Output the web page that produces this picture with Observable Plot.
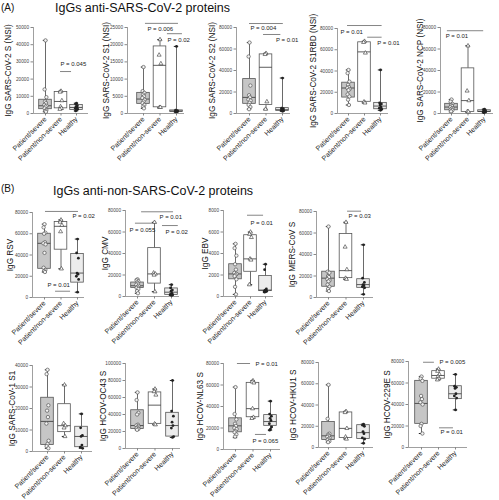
<!DOCTYPE html>
<html><head><meta charset="utf-8">
<script src="https://cdn.jsdelivr.net/npm/d3@7"></script>
<script src="https://cdn.jsdelivr.net/npm/@observablehq/plot@0.6"></script>
<style>
body{margin:0;background:#fff;}
#fig{position:relative;width:499px;height:500px;overflow:hidden;font-family:"Liberation Sans",Arial,sans-serif;background:#fff;}
.lbl{position:absolute;white-space:nowrap;color:#111;line-height:1;}
#fig svg{position:absolute;}
</style></head><body><div id="fig"></div><script>
const groups = ["Patient/severe", "Patient/non-severe", "Healthy"];
const yLabels = ["IgG SARS-CoV-2 S (NSI)", "IgG SARS-CoV-2 S1 (NSI)", "IgG SARS-CoV-2 S2 (NSI)", "IgG SARS-CoV-2 S1RBD (NSI)", "IgG SARS-CoV-2 NCP (NSI)",
  "IgG RSV", "IgG CMV", "IgG EBV", "IgG MERS-CoV S",
  "IgG SARS-CoV-1 S1", "IgG HCOV-OC43 S", "IgG HCOV-NL63 S", "IgG HCOV-HKU1 S", "IgG HCOV-229E S"];
const yMax = [50000, 25000, 80000, 80000, 80000, 80000, 80000, 8000, 80000, 40000, 100000, 80000, 80000, 80000];
const yStep = [10000, 5000, 20000, 20000, 20000, 20000, 20000, 2000, 20000, 10000, 20000, 20000, 20000, 20000];

// box stats: [min, q1, median, q3, max]
const boxSevere = [
  [1000, 2500, 4500, 8000, 42500], [1500, 2800, 4200, 6000, 13500], [4000, 9000, 15000, 32000, 66000],
  [8000, 15000, 24000, 29000, 41000], [1500, 3000, 6000, 9000, 13000],
  [24000, 27000, 51000, 60000, 69000], [3000, 8000, 10000, 13000, 16000], [200, 1600, 2100, 3000, 4900],
  [6000, 10000, 18000, 24000, 66000], [1500, 3000, 14000, 25000, 38000], [22000, 23000, 27000, 45000, 66000],
  [11000, 16000, 22000, 29000, 58000], [5000, 7000, 11000, 24000, 59000], [13000, 22000, 41000, 62000, 66000]];
const boxNonSevere = [
  [2500, 3000, 7000, 12500, 13000], [1800, 1800, 14000, 19500, 21500], [4000, 8000, 43000, 55000, 56000],
  [10000, 11000, 58000, 67000, 68000], [1500, 1500, 12000, 42000, 63000],
  [27000, 45000, 67000, 71000, 73000], [4500, 12000, 21000, 45000, 69000], [1100, 2300, 3500, 5700, 6000],
  [17000, 18000, 25000, 59000, 70000], [7000, 9000, 12000, 22000, 31000], [28000, 29000, 51000, 66000, 70000],
  [29000, 30000, 38000, 62000, 64000], [8000, 9000, 18000, 33000, 34000], [63000, 64000, 67000, 71000, 73000]];
const boxHealthy = [
  [1500, 2000, 3500, 5000, 6000], [400, 500, 700, 900, 19500], [2000, 2500, 3500, 5000, 33000],
  [3000, 4000, 7000, 10000, 41000], [800, 1500, 2000, 3000, 4000],
  [5000, 14000, 23000, 41000, 55000], [1000, 1500, 4000, 7500, 11000], [400, 500, 600, 1900, 3000],
  [3000, 9000, 12000, 17000, 49000], [1500, 2000, 7000, 11500, 17500], [13000, 14000, 27000, 42000, 80000],
  [18000, 22000, 26000, 32000, 45000], [4000, 8000, 14000, 21000, 22000], [35000, 45000, 50000, 57000, 68000]];

// individual points
const ptsSevere = [
  [42500, 14000, 9500, 7000, 6000, 5000, 4500, 4000, 3000, 2000, 1500, 1000],
  [13500, 6500, 6000, 5500, 5000, 4500, 4000, 3500, 3000, 2500, 2000, 1500],
  [66000, 53000, 26000, 17000, 15000, 13000, 12000, 10000, 8000, 6000, 4000],
  [41000, 38000, 30000, 27000, 25000, 24000, 23000, 22000, 18000, 16000, 13000, 8000],
  [13000, 11000, 9000, 8000, 7000, 6000, 5000, 4500, 3500, 3000, 2000],
  [69000, 66000, 61000, 60000, 52000, 51000, 50000, 42000, 28000, 26000, 25000, 24000],
  [16000, 15000, 14000, 13000, 12000, 11000, 10000, 9000, 8000, 7000, 5000, 3000],
  [4900, 4500, 3800, 3000, 2500, 2200, 2100, 2000, 1900, 1600, 900, 200],
  [66000, 24000, 23000, 20000, 19000, 17000, 16000, 15000, 12000, 10000, 8000, 6000],
  [38000, 36000, 21500, 19000, 16000, 13000, 5000, 3500, 2500, 1500],
  [66000, 57000, 42000, 40000, 28000, 27000, 26000, 25000, 24000, 23000, 22000],
  [58000, 33000, 28000, 24000, 22000, 20000, 19000, 17000, 16000, 14000, 12000],
  [59000, 27000, 13000, 12000, 11000, 10000, 9000, 8000, 7000, 6000, 5000],
  [66000, 64000, 62000, 48000, 45000, 42000, 40000, 22000, 20000, 13000]];
const ptsNonSevere = [
  [13000, 12500, 7500, 4000, 3000, 2500], [21500, 17000, 14500, 1800, 1800], [56000, 55000, 11000, 4000],
  [68000, 67000, 57000, 11000, 10000], [63000, 21000, 12000, 2000, 1500],
  [73000, 71000, 68000, 62000, 27000], [69000, 22000, 21000, 20000, 4500], [6000, 5800, 5500, 3500, 3400, 1100],
  [70000, 47000, 26000, 18000, 17000], [31000, 13000, 12000, 11000, 7000], [70000, 67000, 63000, 29000, 28000],
  [64000, 63000, 62000, 38000, 30000, 29000], [34000, 33000, 18000, 10000, 8000], [73000, 71000, 68000, 66000, 64000, 63000]];
const ptsHealthy = [
  [6000, 5500, 4500, 4000, 3500, 3000, 2500, 2000, 1500],
  [19500, 1000, 800, 700, 700, 600, 600, 500, 500],
  [33000, 5000, 4500, 4000, 3500, 3000, 2500, 2000],
  [41000, 10000, 9000, 8000, 6000, 5000, 4000, 3000],
  [4000, 3500, 3000, 2500, 2000, 1800, 1500, 1200, 800],
  [55000, 42000, 37000, 23000, 22000, 20000, 17000, 5000],
  [11000, 8000, 6000, 5000, 3000, 2000, 1500, 1000],
  [3000, 2500, 700, 600, 600, 500, 500, 500, 400],
  [49000, 18000, 14000, 12000, 11000, 10000, 9000, 3000],
  [17500, 11000, 7500, 7000, 3000, 2000, 1500],
  [80000, 44000, 38000, 31000, 27000, 24000, 14000, 13000],
  [45000, 33000, 31000, 29000, 27000, 24000, 21000, 19000, 18000],
  [22000, 21000, 20000, 15000, 13000, 9000, 8000, 4000],
  [68000, 57000, 56000, 55000, 50000, 48000, 46000, 35000]];

// significance annotations: panel, line from x1 to x2 (group units) at y, label at (tx, ty)
const brackets = [
  {p:0, x1:0.97, x2:1.68, y:24400, label:"P = 0.045", tx:0.97, ty:28500},
  {p:1, x1:0.12, x2:2.12, y:26200, label:"P = 0.006", tx:0.24, ty:24500},
  {p:1, x1:1.45, x2:2.36, y:23200, label:"P = 0.02", tx:1.45, ty:21400},
  {p:2, x1:0.0, x2:2.05, y:83700, label:"P = 0.004", tx:0.06, ty:79000},
  {p:2, x1:0.85, x2:1.9, y:73500, label:"P = 0.01", tx:1.6, ty:67900},
  {p:3, x1:-0.06, x2:2.1, y:82800, label:"P = 0.01", tx:-0.5, ty:76500},
  {p:3, x1:1.2, x2:2.1, y:71800, label:"P = 0.01", tx:1.8, ty:66500},
  {p:4, x1:-0.25, x2:1.95, y:77000, label:"P = 0.01", tx:-0.35, ty:72300},
  {p:5, x1:0.06, x2:2.06, y:81000, label:"P = 0.02", tx:1.7, ty:76500},
  {p:5, x1:0.67, x2:1.58, y:5900, label:"P = 0.01", tx:0.18, ty:11950},
  {p:6, x1:0.24, x2:2.12, y:78800, label:"P = 0.01", tx:1.3, ty:74100},
  {p:6, x1:-0.12, x2:0.88, y:68200, label:"P = 0.055", tx:-0.47, ty:61400},
  {p:6, x1:1.47, x2:2.4, y:66000, label:"P = 0.02", tx:1.65, ty:59500},
  {p:7, x1:0.8, x2:1.87, y:7560, label:"P = 0.01", tx:1.0, ty:6860},
  {p:8, x1:1.09, x2:1.89, y:80300, label:"P = 0.03", tx:1.14, ty:75600},
  {p:11, x1:0.11, x2:0.86, y:80000, label:"P = 0.01", tx:1.14, ty:79000},
  {p:11, x1:1.14, x2:1.77, y:14000, label:"P = 0.065", tx:0.97, ty:7400},
  {p:13, x1:0.12, x2:0.76, y:79300, label:"P = 0.005", tx:1.06, ty:79300},
  {p:13, x1:1.06, x2:1.88, y:18300, label:"P = 0.01", tx:1.12, ty:14200}];

// layout (page px): axisX, endX, firstGroupX, lastGroupX, topY, zeroY, labelX
const layout = [
  [33, 88, 45, 76, 27, 113, 8], [127, 184, 143, 176, 27, 113, 106], [236, 290, 249, 282, 27, 113, 212],
  [337, 388, 348, 380, 28, 113, 313], [440, 493, 451, 484, 27, 113, 420],
  [32, 84, 44, 77, 212, 297, 10], [125, 179, 137, 171, 210, 296, 105], [223, 273, 235, 265, 210, 296, 205],
  [316, 373, 328, 363, 211, 297, 292],
  [32, 92, 47, 81, 365, 451, 12], [125, 180, 137, 172, 363, 448, 103], [223, 280, 235, 270, 363, 449, 200],
  [318, 373, 328, 363, 362, 447, 293], [408, 467, 421, 455, 361, 447, 387]];

const fig = document.getElementById("fig");
const FONT = '"Liberation Sans", Arial, sans-serif';
const boxFill = ["#c6c6c6", "#ffffff", "#ececec"];
const spread = [0, -0.22, 0.22, -0.11, 0.11, -0.28, 0.28];

function addLabel(text, x, y, size) {
  const d = document.createElement("div");
  d.className = "lbl"; d.textContent = text;
  d.style.left = x + "px"; d.style.top = y + "px"; d.style.fontSize = size + "px";
  fig.appendChild(d);
}
addLabel("(A)", 1, 2.5, 10);
addLabel("IgGs anti-SARS-CoV-2 proteins", 55, 1.5, 12.5);
addLabel("(B)", 1, 184, 10);
addLabel("IgGs anti-non-SARS-CoV-2 proteins", 53, 184.5, 12.5);

function panel(i) {
  const [ax, ex, g0, g2, ty, zy, lx] = layout[i];
  const s = (g2 - g0) / 2;
  const d0 = (ax - g0) / s, d1 = (ex - g0) / s;
  const ML = 40, MR = 40, MT = 30, MB = 60;
  const width = ML + (ex - ax) + MR;
  const height = MT + (zy - ty) + MB;
  const bw = 6.3 / s;
  const cw = 2.2 / s;
  const boxes = [boxSevere[i], boxNonSevere[i], boxHealthy[i]].map((b, g) =>
    ({g, min: b[0], q1: b[1], med: b[2], q3: b[3], max: b[4]}));
  const pts = [];
  [ptsSevere[i], ptsNonSevere[i], ptsHealthy[i]].forEach((arr, g) =>
    arr.forEach((v, j) => pts.push({g, v, j})));
  const br = brackets.filter(b => b.p === i);
  const ticks = d3.range(0, yMax[i] + 1, yStep[i]);
  const px = d => d.g + spread[d.j % spread.length] * (8 / (s * 2));
  const svg = Plot.plot({
    width, height, marginLeft: ML, marginRight: MR, marginTop: MT, marginBottom: MB,
    x: {domain: [d0, d1], axis: null},
    y: {domain: [0, yMax[i]], axis: null},
    style: {background: "transparent", fontFamily: FONT, fontSize: "7px", overflow: "visible", color: "#333"},
    marks: [
      Plot.axisY({ticks, tickFormat: d => String(d), tickSize: 2.5, tickPadding: 2, fontSize: 4.7, stroke: "#888", fill: "#444", label: null}),
      Plot.axisX({ticks: [0, 1, 2], tickFormat: k => groups[k], tickRotate: -45, tickSize: 2.5, tickPadding: 2, fontSize: 7, stroke: "#888", fill: "#222", label: null}),
      Plot.ruleX([{x: d0, y1: 0, y2: yMax[i]}], {x: "x", y1: "y1", y2: "y2", stroke: "#888", strokeWidth: 0.8}),
      Plot.ruleY([{y: 0, x1: d0, x2: d1}], {y: "y", x1: "x1", x2: "x2", stroke: "#888", strokeWidth: 0.8}),
      Plot.ruleX(boxes, {x: "g", y1: "min", y2: "q1", stroke: "#444", strokeWidth: 0.8}),
      Plot.ruleX(boxes, {x: "g", y1: "q3", y2: "max", stroke: "#444", strokeWidth: 0.8}),
      Plot.ruleY(boxes, {y: "max", x1: d => d.g - cw, x2: d => d.g + cw, stroke: "#222", strokeWidth: 1}),
      Plot.ruleY(boxes, {y: "min", x1: d => d.g - cw, x2: d => d.g + cw, stroke: "#222", strokeWidth: 1}),
      Plot.rect(boxes, {x1: d => d.g - bw, x2: d => d.g + bw, y1: "q1", y2: "q3", fill: d => boxFill[d.g], stroke: "#555", strokeWidth: 0.8}),
      Plot.ruleY(boxes, {y: "med", x1: d => d.g - bw, x2: d => d.g + bw, stroke: "#333", strokeWidth: 0.8}),
      Plot.dot(pts.filter(d => d.g === 0), {x: px, y: "v", r: 1.7, stroke: "#555", fill: "#f4f4f4", strokeWidth: 0.7}),
      Plot.dot(pts.filter(d => d.g === 1), {x: px, y: "v", r: 1.5, symbol: "triangle", stroke: "#333", fill: "white", strokeWidth: 0.6}),
      Plot.dot(pts.filter(d => d.g === 2), {x: px, y: "v", r: 1.4, fill: "#222", stroke: "none"}),
      Plot.ruleY(br, {y: "y", x1: "x1", x2: "x2", stroke: "#777", strokeWidth: 0.9}),
      Plot.text(br, {x: "tx", y: "ty", text: "label", textAnchor: "start", fontSize: 6, fill: "#222"}),
      Plot.text([yLabels[i]], {text: d => d, frameAnchor: "left", rotate: -90, dx: lx - ax, fontSize: 8.2, fill: "#111", textAnchor: "middle", lineAnchor: "middle"})
    ]
  });
  svg.style.position = "absolute";
  svg.style.left = (ax - ML) + "px";
  svg.style.top = (ty - MT) + "px";
  fig.appendChild(svg);
}
for (let i = 0; i < layout.length; i++) panel(i);
</script></body></html>
